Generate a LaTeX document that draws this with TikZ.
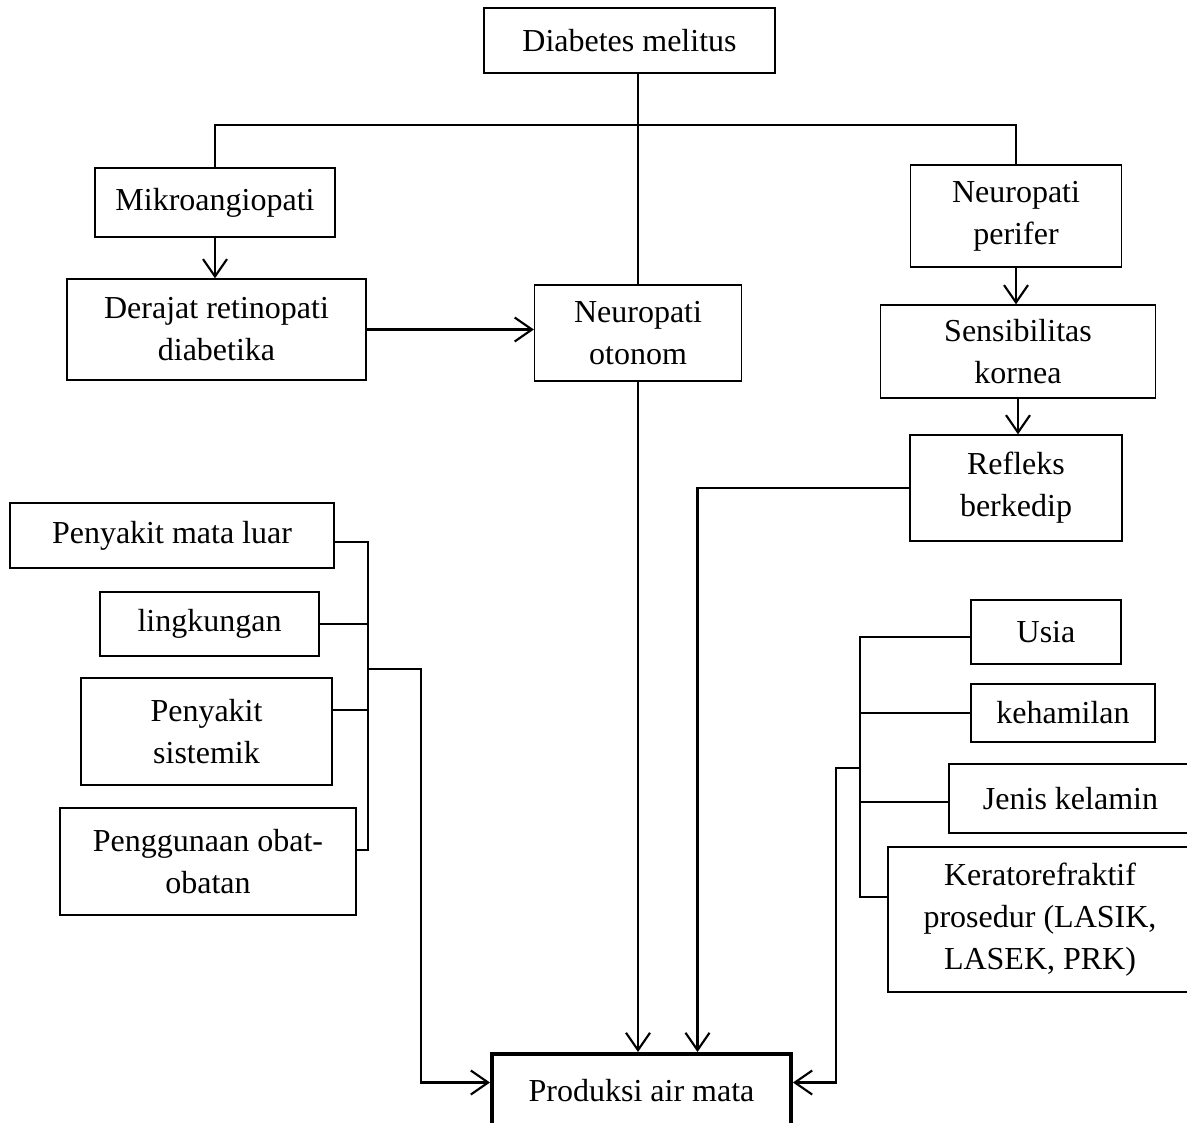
\documentclass[tikz,border=0pt]{standalone}
\usepackage{fontspec}
\setmainfont{Liberation Serif}
\usetikzlibrary{arrows.meta}

\begin{document}
\begin{tikzpicture}[x=0.375pt, y=-0.375pt,
    kotak/.style={draw, line width=0.5pt, align=center, inner sep=2pt,
      font=\fontsize{12}{15.75}\selectfont},
    garis/.style={line width=0.8pt},
    panah/.style={garis, -{Straight Barb[length=6.5pt, width=9pt]}}]

    \useasboundingbox (0,0) rectangle (1187,1122);

    % Top of the tree
    \node[kotak, minimum width=109.1pt, minimum height=24.4pt] (dm) at (629.5,40.5) {Diabetes melitus};
    \node[kotak, minimum width=90pt, minimum height=25.9pt] (mikro) at (215,202.5) {Mikroangiopati};
    \node[kotak, minimum width=112.1pt, minimum height=37.9pt] (derajat) at (216.5,329.5) {Derajat retinopati\\diabetika};
    \node[kotak, minimum width=77.6pt, minimum height=36pt] (otonom) at (638,333) {Neuropati\\otonom};
    \node[kotak, minimum width=79.1pt, minimum height=38.25pt] (perifer) at (1016,216) {Neuropati\\perifer};
    \node[kotak, minimum width=103.1pt, minimum height=34.9pt] (sensi) at (1018,351.5) {Sensibilitas\\kornea};
    \node[kotak, minimum width=79.5pt, minimum height=39.75pt] (refleks) at (1016,488) {Refleks\\berkedip};

    % Left group
    \node[kotak, minimum width=121.5pt, minimum height=24.4pt] (pml) at (172,535.5) {Penyakit mata luar};
    \node[kotak, minimum width=82.1pt, minimum height=24pt] (lingk) at (209.5,624) {lingkungan};
    \node[kotak, minimum width=94.1pt, minimum height=40.1pt] (sistemik) at (206.5,731.5) {Penyakit\\sistemik};
    \node[kotak, minimum width=111pt, minimum height=40.1pt] (obat) at (208,861.5) {Penggunaan obat-\\obatan};

    % Right group
    \node[kotak, minimum width=56.25pt, minimum height=24pt] (usia) at (1046,632) {Usia};
    \node[kotak, minimum width=69pt, minimum height=21.75pt] (hamil) at (1063,713) {kehamilan};
    \node[kotak, minimum width=91.1pt, minimum height=25.9pt] (jenis) at (1070.5,798.5) {Jenis kelamin};
    \node[kotak, minimum width=114pt, minimum height=54.4pt] (kerato) at (1040,919.5) {Keratorefraktif\\prosedur (LASIK,\\LASEK, PRK)};

    % Outcome
    \node[kotak, line width=1.5pt, minimum width=112.1pt, minimum height=27.4pt] (prod) at (641.5,1090.5) {Produksi air mata};

    % Branches from the top
    \coordinate (cabang) at (638,125);
    \draw[garis] (otonom.north |- dm.south) -- (otonom.north);
    \draw[garis] (mikro.north) |- (cabang) -| (perifer.north);
    \draw[panah] (mikro.south) -- (mikro.south |- derajat.north);
    \draw[panah] (derajat.east) -- (derajat.east -| otonom.west);
    \draw[panah] (perifer.south) -- (perifer.south |- sensi.north);
    \draw[panah] (sensi.south) -- (sensi.south |- refleks.north);

    % Into the outcome from above
    \draw[panah] (otonom.south) -- (otonom.south |- prod.north);
    \draw[panah] (refleks.west) -| ([xshift=21pt]prod.north);

    % Left bracket
    \coordinate (kiri) at (368,0);
    \coordinate (sudutKiri) at (421,669);
    \draw[garis] ([yshift=-2.4pt]pml.east) -- ([yshift=-2.4pt]pml.east -| kiri)
      -- ([yshift=4.3pt]obat.east -| kiri) -- ([yshift=4.3pt]obat.east);
    \draw[garis] (lingk.east) -- (lingk.east -| kiri);
    \draw[garis] ([yshift=8pt]sistemik.east) -- ([yshift=8pt]sistemik.east -| kiri);
    \draw[panah] (sudutKiri -| kiri) -- (sudutKiri) |- ([yshift=3pt]prod.west);

    % Right bracket
    \coordinate (kanan) at (860,0);
    \coordinate (sudutKanan) at (836,768);
    \draw[garis] ([yshift=-1.9pt]usia.west) -- ([yshift=-1.9pt]usia.west -| kanan)
      -- ([yshift=8.4pt]kerato.west -| kanan) -- ([yshift=8.4pt]kerato.west);
    \draw[garis] (hamil.west) -- (hamil.west -| kanan);
    \draw[garis] ([yshift=-1.3pt]jenis.west) -- ([yshift=-1.3pt]jenis.west -| kanan);
    \draw[panah] (sudutKanan -| kanan) -- (sudutKanan) |- ([yshift=3pt]prod.east);

\end{tikzpicture}
\end{document}
